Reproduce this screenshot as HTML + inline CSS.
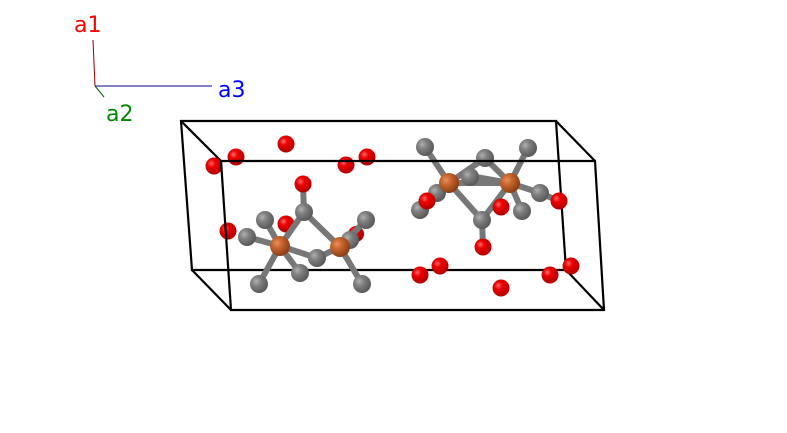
<!DOCTYPE html>
<html><head><style>body{margin:0;background:#fff}svg{display:block}</style></head><body>
<svg width="787" height="433" viewBox="0 0 787 433" xmlns="http://www.w3.org/2000/svg">
<defs>
<radialGradient id="r" cx="35%" cy="35%" r="65%"><stop offset="0" stop-color="#ff6a6a"/><stop offset=".35" stop-color="#ee0000"/><stop offset="1" stop-color="#b00000"/></radialGradient>
<radialGradient id="g" cx="35%" cy="35%" r="65%"><stop offset="0" stop-color="#b0b0b0"/><stop offset=".4" stop-color="#808080"/><stop offset="1" stop-color="#5a5a5a"/></radialGradient>
<radialGradient id="o" cx="35%" cy="35%" r="65%"><stop offset="0" stop-color="#e89060"/><stop offset=".4" stop-color="#c8642c"/><stop offset="1" stop-color="#8a4018"/></radialGradient>
</defs>
<line x1="93" y1="40" x2="95" y2="86" stroke="#8b0000" stroke-width="1"/>
<line x1="95" y1="86" x2="212" y2="86" stroke="#00008b" stroke-width="1"/>
<line x1="95" y1="86" x2="104" y2="97" stroke="#006400" stroke-width="1"/>
<text x="74" y="32" font-family="DejaVu Sans, sans-serif" font-size="22" fill="#f00">a1</text>
<text x="218" y="97" font-family="DejaVu Sans, sans-serif" font-size="22" fill="#00f">a3</text>
<text x="106" y="121" font-family="DejaVu Sans, sans-serif" font-size="22" fill="#080">a2</text>
<g stroke="#000" stroke-width="2.2" fill="none">
<polygon points="181,121 556,121 566,270 192,270"/>
<line x1="181" y1="121" x2="221" y2="161"/><line x1="556" y1="121" x2="595" y2="161"/>
<line x1="192" y1="270" x2="231" y2="310"/><line x1="566" y1="270" x2="604" y2="310"/>
</g>
<g fill="url(#r)">
<circle cx="286" cy="144" r="8.5"/><circle cx="236" cy="157" r="8.5"/><circle cx="367" cy="157" r="8.5"/>
<circle cx="214" cy="166" r="8.5"/><circle cx="346" cy="165" r="8.5"/>
<circle cx="228" cy="231" r="8.5"/><circle cx="286" cy="224" r="8.5"/><circle cx="356" cy="234" r="8"/>
</g>
<g stroke="#777" stroke-width="6" stroke-linecap="round">
<line x1="247" y1="237" x2="280" y2="246"/><line x1="265" y1="220" x2="280" y2="246"/>
<line x1="304" y1="212" x2="280" y2="246"/><line x1="304" y1="212" x2="340" y2="247"/>
<line x1="280" y1="246" x2="317" y2="258"/><line x1="280" y1="246" x2="300" y2="273"/>
<line x1="280" y1="246" x2="259" y2="284"/><line x1="340" y1="247" x2="317" y2="258"/>
<line x1="340" y1="247" x2="366" y2="220"/><line x1="340" y1="247" x2="350" y2="240"/>
<line x1="340" y1="247" x2="362" y2="284"/><line x1="304" y1="212" x2="303" y2="184"/>
<line x1="449" y1="183" x2="425" y2="147"/><line x1="449" y1="183" x2="485" y2="158"/>
<line x1="449" y1="183" x2="437" y2="193"/><line x1="449" y1="183" x2="420" y2="210"/>
<line x1="449" y1="183" x2="482" y2="220"/><line x1="449" y1="183" x2="510" y2="183"/>
<line x1="510" y1="183" x2="485" y2="158"/><line x1="510" y1="183" x2="528" y2="148"/>
<line x1="510" y1="183" x2="540" y2="193"/><line x1="510" y1="183" x2="522" y2="211"/>
<line x1="510" y1="183" x2="482" y2="220"/><line x1="470" y1="176" x2="510" y2="183"/>
<line x1="482" y1="220" x2="483" y2="247"/><line x1="540" y1="193" x2="559" y2="201"/>
</g>
<g fill="url(#r)"><circle cx="501" cy="207" r="8.5"/><circle cx="303" cy="184" r="8.5"/></g>
<g fill="url(#g)">
<circle cx="425" cy="147" r="9"/><circle cx="485" cy="158" r="9"/><circle cx="528" cy="148" r="9"/>
<circle cx="470" cy="177" r="9"/><circle cx="437" cy="193" r="9"/>
<circle cx="304" cy="212" r="9"/><circle cx="265" cy="220" r="9"/><circle cx="247" cy="237" r="9"/>
<circle cx="366" cy="220" r="9"/><circle cx="350" cy="240" r="9"/>
<circle cx="300" cy="273" r="9"/><circle cx="317" cy="258" r="9"/>
<circle cx="259" cy="284" r="9"/><circle cx="362" cy="284" r="9"/>
<circle cx="420" cy="210" r="9"/><circle cx="540" cy="193" r="9"/><circle cx="522" cy="211" r="9"/><circle cx="482" cy="220" r="9"/>
</g>
<g fill="url(#o)">
<circle cx="280" cy="246" r="10"/><circle cx="340" cy="247" r="10"/>
<circle cx="449" cy="183" r="10"/><circle cx="510" cy="183" r="10"/>
</g>
<g fill="url(#r)">
<circle cx="427" cy="201" r="8.5"/><circle cx="559" cy="201" r="8.5"/><circle cx="483" cy="247" r="8.5"/>
<circle cx="440" cy="266" r="8.5"/><circle cx="571" cy="266" r="8.5"/>
<circle cx="420" cy="275" r="8.5"/><circle cx="550" cy="275" r="8.5"/><circle cx="501" cy="288" r="8.5"/>
</g>
<polygon points="221,161 595,161 604,310 231,310" stroke="#000" stroke-width="2.2" fill="none"/>
</svg>
</body></html>
